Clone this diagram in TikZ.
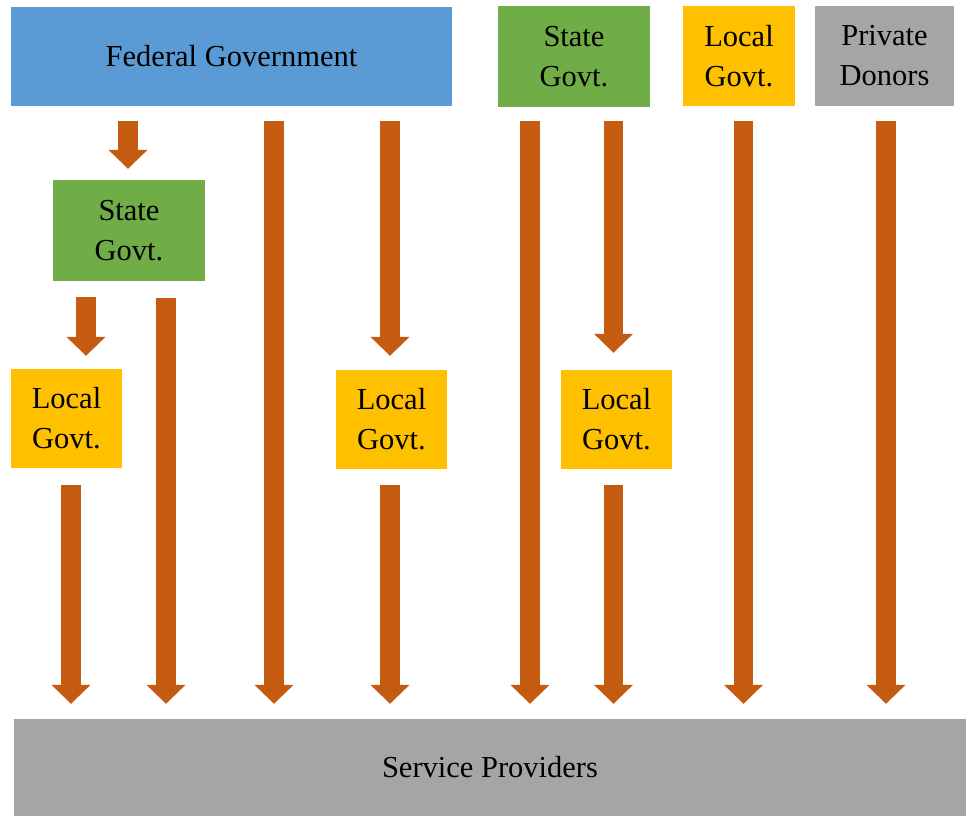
\documentclass[tikz,border=0pt]{standalone}
\usepackage{fontspec}
\setmainfont{Liberation Serif}
\usetikzlibrary{arrows.meta}
\definecolor{fedblue}{HTML}{5B9BD5}
\definecolor{stategreen}{HTML}{70AD47}
\definecolor{localgold}{HTML}{FFC000}
\definecolor{donorgray}{HTML}{A5A5A5}
\definecolor{flowor}{HTML}{C55A11}
\begin{document}
\begin{tikzpicture}[x=1pt,y=-1pt,
  box/.style={rectangle, inner sep=0pt, align=center,
    font=\fontsize{30.5}{40}\selectfont},
  fedbox/.style={box, fill=fedblue},
  statebox/.style={box, fill=stategreen, minimum width=152pt, minimum height=101pt},
  localbox/.style={box, fill=localgold, minimum width=111pt, minimum height=99pt},
  graybox/.style={box, fill=donorgray},
  flow/.style={draw=flowor, line width=19.5pt,
    -{Triangle[width=38pt,length=19pt]},
    shorten <=15pt, shorten >=15pt}]
\useasboundingbox (0,0) rectangle (966,816);

% funding sources along the top
\node[fedbox, minimum width=441pt, minimum height=99pt] (fed) at (231.5,56.5) {Federal Government};
\node[statebox] (stT) at (574,56.5) {State\\Govt.};
\node[localbox, minimum width=112pt, minimum height=100pt] (lcT) at (739,56) {Local\\Govt.};
\node[graybox, minimum width=139pt, minimum height=100pt] (pd) at (884.5,56) {Private\\Donors};

% intermediate governments
\node[statebox] (stL) at (129,230.5) {State\\Govt.};
\node[localbox] (lcL) at (66.5,418.5) {Local\\Govt.};
\node[localbox] (lcM) at (391.5,419.5) {Local\\Govt.};
\node[localbox] (lcR) at (616.5,419.5) {Local\\Govt.};

% recipients
\node[graybox, minimum width=952pt, minimum height=97pt] (sp) at (490,767.5) {Service Providers};

% columns for the direct transfers
\coordinate (c1) at (71,0);
\coordinate (c2) at (166,0);
\coordinate (c3) at (274,0);
\coordinate (c4) at (390,0);
\coordinate (c5) at (530,0);
\coordinate (c6) at (613.5,0);
\coordinate (c7) at (743.5,0);
\coordinate (c8) at (886,0);
\coordinate (c0) at (128,0);
\coordinate (cL) at (86,0);

% federal flows
\draw[flow, shorten >=11pt] (fed.south -| c0) -- (stL.north -| c0);
\draw[flow] (fed.south -| c3) -- (sp.north -| c3);
\draw[flow, shorten >=14pt] (fed.south -| c4) -- (lcM.north -| c4);

% flows through the lower state government
\draw[flow, shorten <=16pt, shorten >=13pt] (stL.south -| cL) -- (lcL.north -| cL);
\draw[flow, shorten <=17pt] (stL.south -| c2) -- (sp.north -| c2);

% flows from the local governments
\draw[flow, shorten <=17pt] (lcL.south -| c1) -- (sp.north -| c1);
\draw[flow, shorten <=16pt] (lcM.south -| c4) -- (sp.north -| c4);
\draw[flow, shorten <=16pt] (lcR.south -| c6) -- (sp.north -| c6);

% flows from the top state government
\draw[flow, shorten <=14pt] (stT.south -| c5) -- (sp.north -| c5);
\draw[flow, shorten <=14pt, shorten >=17pt] (stT.south -| c6) -- (lcR.north -| c6);

% local government and private donors
\draw[flow] (lcT.south -| c7) -- (sp.north -| c7);
\draw[flow] (pd.south -| c8) -- (sp.north -| c8);
\end{tikzpicture}
\end{document}
